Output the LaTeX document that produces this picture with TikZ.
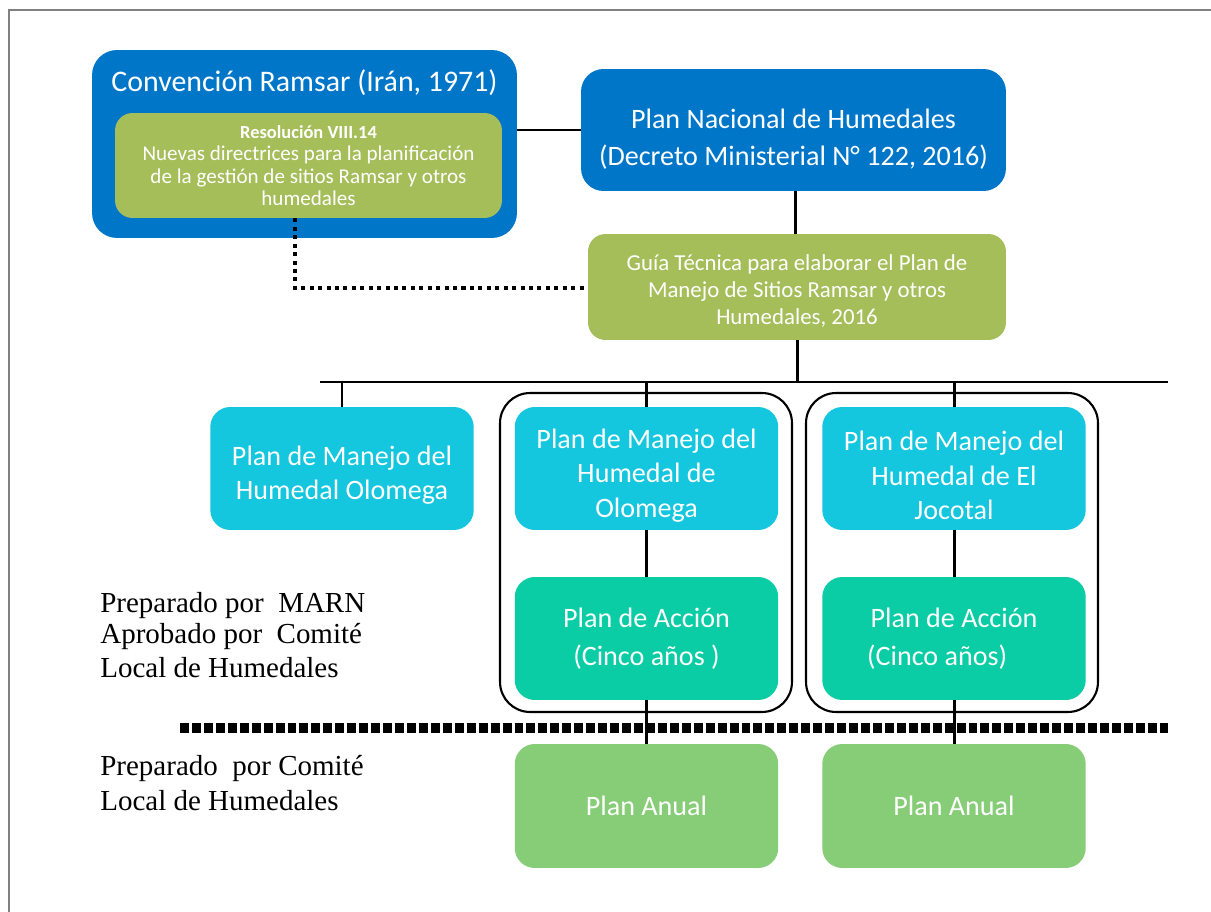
\documentclass[tikz,border=0pt]{standalone}
\usepackage{fontspec}
\setmainfont{Liberation Serif}
\newfontfamily\boxfont{Carlito}
\usepackage{tikz}
\usetikzlibrary{positioning}

\definecolor{ramsarblue}{RGB}{0,118,201}
\definecolor{olive}{RGB}{165,190,90}
\definecolor{humcyan}{RGB}{20,198,222}
\definecolor{accteal}{RGB}{10,205,165}
\definecolor{anualgreen}{RGB}{135,205,120}

\newcommand{\lowtext}[1]{\rule{0pt}{#1}}

\tikzset{
  planbox/.style={rounded corners=0.4cm, text=white, align=center, inner sep=0pt,
    font=\boxfont\fontsize{16}{19.5}\selectfont},
  wide/.style={minimum width=5.27cm, minimum height=2.46cm},
  groupframe/.style={draw=black, line width=1.2pt, rounded corners=0.6cm,
    minimum width=5.84cm, minimum height=6.38cm},
  link/.style={draw=black, line width=1.7pt},
  dotlink/.style={draw=black, line width=2.3pt, dash pattern=on 2.3pt off 2.5pt},
  cutline/.style={draw=black, line width=6.2pt, dash pattern=on 5.1pt off 1.7pt},
  note/.style={align=left, anchor=west, inner sep=0pt, font=\fontsize{16.5}{17.6}\selectfont}
}

\begin{document}
\begin{tikzpicture}[x=0.02cm, y=-0.02cm]
\useasboundingbox (0,0) rectangle (1211,912);
\draw[color=gray, line width=0.8pt](9,912) -- (9,10) -- (1211,10);

% top level
\node[planbox, fill=ramsarblue, rounded corners=0.5cm, minimum width=8.5cm, minimum height=3.76cm] (ramsar) at (304.5,144) {};
\node[planbox, font=\boxfont\fontsize{17}{20}\selectfont] (ramsart) at (304.5,83) {Convención Ramsar (Irán, 1971)};
\node[planbox, fill=olive, rounded corners=0.35cm, minimum width=7.74cm, minimum height=2.1cm,
  font=\boxfont\fontsize{12}{12.7}\selectfont] (resol) at (308.5,165.5)
  {{\fontsize{10.5}{12.7}\selectfont\bfseries Resolución VIII.14}\\Nuevas directrices para la planificación\\de la gestión de sitios Ramsar y otros\\humedales};
\node[planbox, fill=ramsarblue, rounded corners=0.45cm, minimum width=8.5cm, minimum height=2.44cm,
  font=\boxfont\fontsize{16}{21}\selectfont] (pnac) at (793.5,130)
  {\lowtext{22pt}Plan Nacional de Humedales\\(Decreto Ministerial N° 122, 2016)};
\node[planbox, fill=olive, rounded corners=0.35cm, minimum width=8.36cm, minimum height=2.12cm,
  font=\boxfont\fontsize{13}{15.3}\selectfont] (guia) at (797,287)
  {\lowtext{14pt}Guía Técnica para elaborar el Plan de\\Manejo de Sitios Ramsar y otros\\Humedales, 2016};

% plans per wetland
\node[groupframe] (frame1) at (646,552.5) {};
\node[groupframe] (frame2) at (952,552.5) {};
\node[planbox, wide, fill=humcyan] (olo1) at (342,468.5) {\lowtext{19pt}Plan de Manejo del\\Humedal Olomega};
\node[planbox, wide, fill=humcyan] (olo2) at (646.5,468.5) {\lowtext{19pt}Plan de Manejo del\\Humedal de\\Olomega};
\node[planbox, wide, fill=humcyan] (joco) at (954,468.5) {\lowtext{19pt}Plan de Manejo del\\Humedal de El\\Jocotal};
\node[planbox, wide, fill=accteal, font=\boxfont\fontsize{16}{21.5}\selectfont] (acc1) at (646.5,638.5) {Plan de Acción\\(Cinco años )};
\node[planbox, wide, fill=accteal, font=\boxfont\fontsize{16}{21.5}\selectfont] (acc2) at (954,638.5) {Plan de Acción\\(Cinco años)\hspace*{1.2em}};
\node[planbox, wide, fill=anualgreen, minimum height=2.48cm] (anual1) at (646.5,806) {Plan Anual};
\node[planbox, wide, fill=anualgreen, minimum height=2.48cm] (anual2) at (954,806) {Plan Anual};

% side notes
\node[note] (marn) at (100,635) {Preparado por \ MARN\\Aprobado por \ Comité\\[2pt]Local de Humedales};
\node[note] (comite) at (100,783) {Preparado \ por Comité\\[2pt]Local de Humedales};

% connectors
\coordinate (busL) at (320,382);
\coordinate (busR) at (1168,382);
\coordinate (dotc) at (295,288);
\coordinate (cutL) at (180,728);
\coordinate (cutR) at (1168,728);

\draw[link] (ramsar.east |- pnac.west) -- (pnac.west);
\draw[link] (pnac.south -| 795,0) -- (guia.north -| 795,0);
\draw[dotlink] (resol.south -| dotc) -- (dotc) -- (guia.west |- dotc);
\draw[link] (guia.south) -- (guia.south |- busL);
\draw[link] (busL) -- (busR);
\draw[link] (olo1.north |- busL) -- (olo1.north);
\draw[link] (olo2.north |- busL) -- (olo2.north);
\draw[link] (joco.north |- busL) -- (joco.north);
\draw[link] (olo2.south) -- (acc1.north);
\draw[link] (joco.south) -- (acc2.north);
\draw[cutline] (cutL) -- (cutR);
\draw[link] (acc1.south) -- (anual1.north);
\draw[link] (acc2.south) -- (anual2.north);

\end{tikzpicture}
\end{document}
